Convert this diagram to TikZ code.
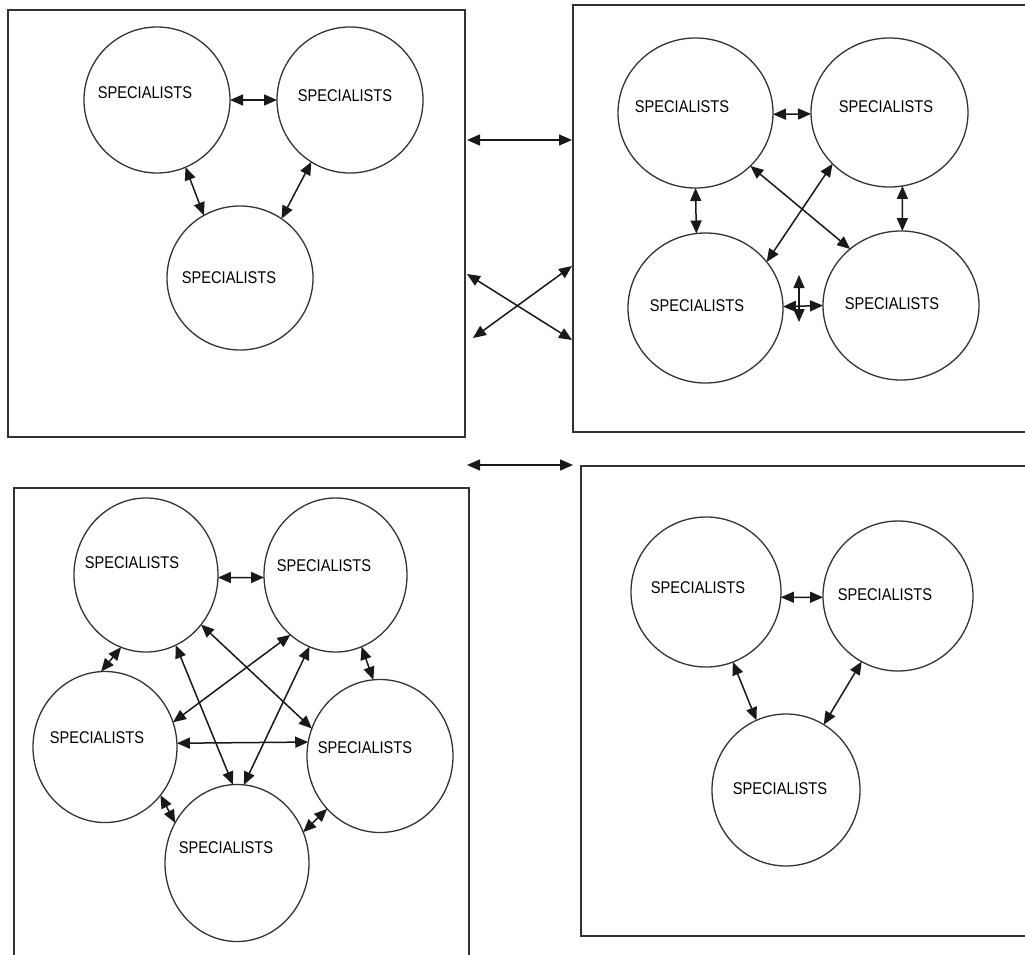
\documentclass[tikz,border=0pt]{standalone}
\usepackage{fontspec}
\setmainfont{Liberation Sans}
\newfontfamily\specfont[FakeStretch=0.86]{Liberation Sans}
\usetikzlibrary{arrows.meta,shapes.geometric}
\tikzset{
  frame/.style={draw=black!80, line width=1.3pt},
  circ/.style={draw=black!80, line width=1.3pt, ellipse, inner sep=0pt, outer sep=0pt},
  lbl/.style={inner sep=0pt, font=\specfont\fontsize{17}{17}\selectfont},
  arr/.style={arrows={Triangle[length=13pt,width=11pt]-Triangle[length=13pt,width=11pt]}, line width=1.5pt, draw=black!90}
}
\begin{document}
\begin{tikzpicture}[x=1pt,y=-1pt]
\useasboundingbox (0,0) rectangle (1025,955);
\fill[white] (0,0) rectangle (1025,955);
% frames
\draw[frame] (8,10) rectangle (465,437);
\draw[frame] (573,5) rectangle (1035,432);
\draw[frame] (14,488) rectangle (469,965);
\draw[frame] (581,466) rectangle (1035,936);

% ---------- top left ----------
\node[circ, minimum width=146pt, minimum height=146pt] (c1) at (157,100) {};
\node[circ, minimum width=146pt, minimum height=146pt] (c2) at (350,100) {};
\node[circ, minimum width=146pt, minimum height=144pt] (c3) at (240,278) {};
\node[lbl] (tc1) at (145,93) {SPECIALISTS};
\node[lbl] (tc2) at (345,96) {SPECIALISTS};
\node[lbl] (tc3) at (229,278) {SPECIALISTS};
\draw[arr] (c1.0) -- (c2.180);
\draw[arr] (c1.-67) -- (c3.120);
\draw[arr] (c2.-122) -- (c3.55);

% ---------- top right ----------
\node[circ, minimum width=155pt, minimum height=150pt] (d1) at (695.5,113) {};
\node[circ, minimum width=157pt, minimum height=149pt] (d2) at (889.5,112.5) {};
\node[circ, minimum width=155pt, minimum height=150pt] (d3) at (705.5,308) {};
\node[circ, minimum width=156pt, minimum height=149pt] (d4) at (901,305.5) {};
\node[lbl] (td1) at (682,107) {SPECIALISTS};
\node[lbl] (td2) at (886,107) {SPECIALISTS};
\node[lbl] (td3) at (697,306) {SPECIALISTS};
\node[lbl] (td4) at (892,304) {SPECIALISTS};
\draw[arr] (d1.-1.4) -- (d2.181.8);
\draw[arr] (d1.-90) -- (d3.97);
\draw[arr] (d2.-80.6) -- (d4.89.2);
\draw[arr] (d1.-44.8) -- (d4.132.7);
\draw[arr] (d2.-138.2) -- (d3.37.8);
\draw[arr] (d3.1.4) -- (d4.180);
\coordinate (vu) at (799,275);
\coordinate (vd) at (799,322);
\draw[arr] (vu) -- (vd);

% ---------- between frames ----------
\coordinate (h1a) at (467,140);
\coordinate (h1b) at (572,140);
\coordinate (xa1) at (467,274);
\coordinate (xa2) at (572,340);
\coordinate (xb1) at (473,338);
\coordinate (xb2) at (572,266);
\coordinate (h2a) at (467,465);
\coordinate (h2b) at (573,465);
\draw[arr] (h1a) -- (h1b);
\draw[arr] (xa1) -- (xa2);
\draw[arr] (xb1) -- (xb2);
\draw[arr] (h2a) -- (h2b);

% ---------- bottom left ----------
\node[circ, minimum width=144pt, minimum height=154pt] (e1) at (146,575) {};
\node[circ, minimum width=143pt, minimum height=154pt] (e2) at (335.5,575) {};
\node[circ, minimum width=144pt, minimum height=151pt] (e3) at (105,747) {};
\node[circ, minimum width=146pt, minimum height=153pt] (e4) at (380,756) {};
\node[circ, minimum width=144pt, minimum height=157pt] (e5) at (237,863) {};
\node[lbl] (te1) at (132,563) {SPECIALISTS};
\node[lbl] (te2) at (324,566) {SPECIALISTS};
\node[lbl] (te3) at (97,738) {SPECIALISTS};
\node[lbl] (te4) at (365,748) {SPECIALISTS};
\node[lbl] (te5) at (226,848) {SPECIALISTS};
\draw[arr] (e1.-2.2) -- (e2.182.3);
\draw[arr] (e1.-109.6) -- (e3.93.7);
\draw[arr] (e2.-70.8) -- (e4.95.2);
\draw[arr] (e3.-41.3) -- (e5.147.2);
\draw[arr] (e5.25.2) -- (e4.-135.5);
\draw[arr] (e3.3.9) -- (e4.169.4);
\draw[arr] (e1.-42.9) -- (e4.158.7);
\draw[arr] (e1.-67) -- (e5.93.5);
\draw[arr] (e2.-127.6) -- (e3.20.6);
\draw[arr] (e2.-110.9) -- (e5.85.7);

% ---------- bottom right ----------
\node[circ, minimum width=150pt, minimum height=150pt] (f1) at (706,592) {};
\node[circ, minimum width=150pt, minimum height=150pt] (f2) at (898,596) {};
\node[circ, minimum width=148pt, minimum height=152pt] (f3) at (786,790) {};
\node[lbl] (tf1) at (698,588) {SPECIALISTS};
\node[lbl] (tf2) at (885,595) {SPECIALISTS};
\node[lbl] (tf3) at (780,789) {SPECIALISTS};
\draw[arr] (f1.-4.6) -- (f2.181.5);
\draw[arr] (f1.-69) -- (f3.113.8);
\draw[arr] (f2.-119) -- (f3.60.8);
\end{tikzpicture}
\end{document}
